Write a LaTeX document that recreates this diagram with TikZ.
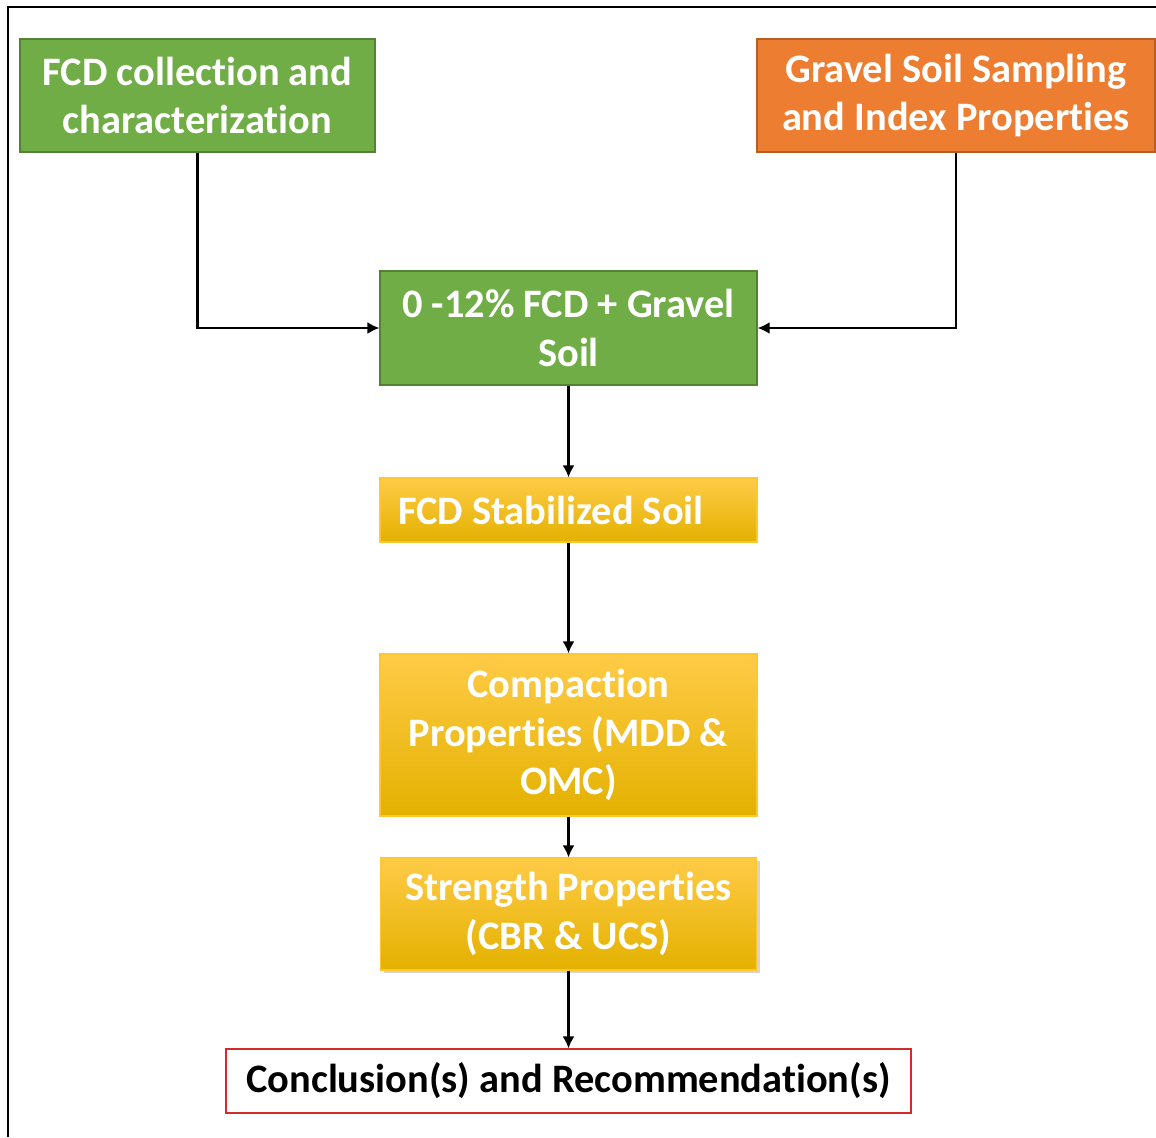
\documentclass[tikz,border=0pt]{standalone}
\usepackage{fontspec}
\setmainfont{Carlito}[Ligatures=NoCommon]
\usepackage{tikz}
\usetikzlibrary{arrows.meta,shadows}

\definecolor{boxgreen}{HTML}{70AD47}
\definecolor{greenline}{HTML}{548235}
\definecolor{boxorange}{HTML}{ED7D31}
\definecolor{orangeline}{HTML}{B65F22}
\definecolor{yellowtop}{HTML}{FFCB47}
\definecolor{yellowmid}{HTML}{FFC000}
\definecolor{yellowbot}{HTML}{E3B100}
\definecolor{yellowline}{HTML}{FFC633}
\definecolor{boxred}{HTML}{D42A2A}

\begin{document}
\begin{tikzpicture}[auto, line width=0.6pt,
                    main node/.style={rectangle,draw,inner sep=0pt,align=center,text=white,
                                      font=\fontsize{23}{27.5}\selectfont\bfseries},
                    green node/.style={main node,fill=boxgreen,draw=greenline},
                    orange node/.style={main node,fill=boxorange,draw=orangeline},
                    yellow node/.style={main node,draw=yellowline,top color=yellowtop,
                                        middle color=yellowmid,bottom color=yellowbot},
                    arrow/.style={draw=black,line width=1.5pt,-{Latex[length=2.4mm,width=2.4mm]}}]

  \useasboundingbox (0,0) rectangle (23.12,-22.74);
  \draw[line width=1.4pt] (0.16,-22.74) -- (0.16,-0.14) -- (23.12,-0.14);

  \node[green node,minimum width=7.10cm,minimum height=2.26cm] (1) at (3.95,-1.91)
    {FCD collection and\\characterization};
  \node[orange node,minimum width=7.96cm,minimum height=2.26cm] (2) at (19.12,-1.91)
    {Gravel Soil Sampling\\and Index Properties};
  \node[green node,minimum width=7.54cm,minimum height=2.28cm] (3) at (11.37,-6.56)
    {0 -12\% FCD + Gravel\\Soil};
  \node[yellow node,minimum height=1.28cm,text width=6.82cm,inner xsep=0.36cm,align=flush left] (4)
    at (11.37,-10.20) {FCD Stabilized Soil};
  \node[yellow node,minimum width=7.54cm,minimum height=3.24cm] (5) at (11.37,-14.70)
    {Compaction\\Properties (MDD \&\\OMC)};
  \node[yellow node,minimum width=7.52cm,minimum height=2.24cm,
        drop shadow={shadow xshift=0.06cm,shadow yshift=-0.06cm,opacity=0.35}] (6)
    at (11.37,-18.28) {Strength Properties\\(CBR \& UCS)};
  \node[main node,draw=boxred,text=black,minimum width=13.70cm,minimum height=1.28cm] (7)
    at (11.37,-21.62) {Conclusion(s) and Recommendation(s)};

  \draw[arrow] (1) |- (3);
  \draw[arrow] (2) |- (3);

  \path[arrow]
    (3) edge (4)
    (4) edge (5)
    (5) edge (6)
    (6) edge (7);
\end{tikzpicture}
\end{document}
